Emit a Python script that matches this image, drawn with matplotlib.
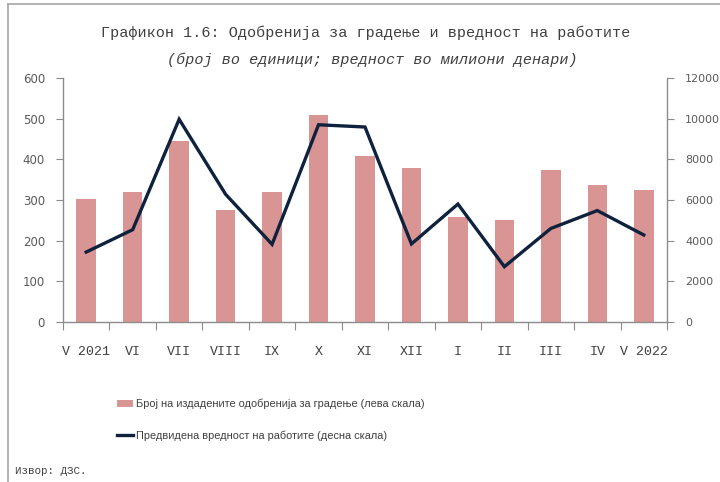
import matplotlib
matplotlib.use("Agg")
import matplotlib.pyplot as plt
from matplotlib.patches import Patch
from matplotlib.lines import Line2D

categories = ["V 2021", "VI", "VII", "VIII", "IX", "X", "XI", "XII", "I", "II", "III", "IV", "V 2022"]
permits = [302, 320, 445, 275, 320, 509, 408, 379, 258, 251, 374, 337, 325]
value_mkd = [3440, 4540, 9970, 6280, 3820, 9700, 9590, 3840, 5800, 2720, 4600, 5480, 4280]
left_ticks = [0, 100, 200, 300, 400, 500, 600]
right_ticks = [0, 2000, 4000, 6000, 8000, 10000, 12000]

title = "Графикон 1.6: Одобренија за градење и вредност на работите"
subtitle = "(број во единици; вредност во милиони денари)"
bar_label = "Број на издадените одобренија за градење (лева скала)"
line_label = "Предвидена вредност на работите (десна скала)"
source = "Извор: ДЗС."

bar_color = "#d99594"
line_color = "#0f223d"
axis_color = "#8c8c8c"
text_color = "#595959"

fig = plt.figure(figsize=(7.2, 4.82), dpi=100)
W, H = 720, 482
ax = fig.add_axes([63 / W, 1 - 322 / H, (667 - 63) / W, (322 - 78) / H])
ax2 = ax.twinx()

x = list(range(len(categories)))
ax.bar(x, permits, width=0.42, color=bar_color, zorder=2)
ax2.plot(x, value_mkd, color=line_color, lw=2.4, zorder=3, solid_joinstyle="miter")

ax.set_xlim(-0.5, len(categories) - 0.5)
ax.set_ylim(0, 600)
ax2.set_ylim(0, 12000)
ax.set_yticks(left_ticks)
ax2.set_yticks(right_ticks)

for a in (ax, ax2):
    for s in a.spines.values():
        s.set_color(axis_color)
        s.set_linewidth(1.0)
    a.spines["top"].set_visible(False)
ax.spines["right"].set_visible(False)
ax2.spines["left"].set_visible(False)
ax2.spines["bottom"].set_visible(False)

ax.set_xticks([i + 0.5 for i in range(-1, len(categories))], minor=False)
ax.set_xticklabels([])
ax.tick_params(axis="x", which="major", length=6, color=axis_color, direction="out")
ax.set_xticks(x, minor=True)
ax.set_xticklabels(categories, minor=True, family="Liberation Mono", fontsize=9.5, color="#404040")
ax.tick_params(axis="x", which="minor", length=0, pad=17)

ax.tick_params(axis="y", length=5, color=axis_color, labelsize=8.5, labelcolor=text_color, pad=8)
ax2.tick_params(axis="y", length=5, color=axis_color, labelsize=8, labelcolor=text_color, pad=8)

fig.text(366 / W, 1 - 33 / H, title, ha="center", va="center", family="Liberation Mono",
         fontsize=10.9, color="#404040")
fig.text(372 / W, 1 - 60 / H, subtitle, ha="center", va="center", family="Liberation Mono",
         fontsize=10.9, style="italic", color="#404040")

handles = [Patch(facecolor=bar_color, edgecolor="none"),
           Line2D([0], [0], color=line_color, lw=2.4)]
fig.legend(handles, [bar_label, line_label], loc="upper left",
           bbox_to_anchor=(107 / W, 1 - 389 / H), frameon=False, handlelength=1.5,
           handletextpad=0.2, labelspacing=1.9, prop={"family": "Liberation Sans", "size": 7.9},
           labelcolor="#404040")

fig.text(15 / W, 1 - 471 / H, source, ha="left", va="center", family="Liberation Mono",
         fontsize=7.8, color="#404040")

fig.add_artist(Line2D([8 / W, 8 / W], [0, 1 - 4 / H], transform=fig.transFigure,
                      color="#a6a6a6", lw=1.2))
fig.add_artist(Line2D([8 / W, 1], [1 - 4 / H, 1 - 4 / H], transform=fig.transFigure,
                      color="#a6a6a6", lw=1.2))

fig.savefig("out.png", dpi=100)
